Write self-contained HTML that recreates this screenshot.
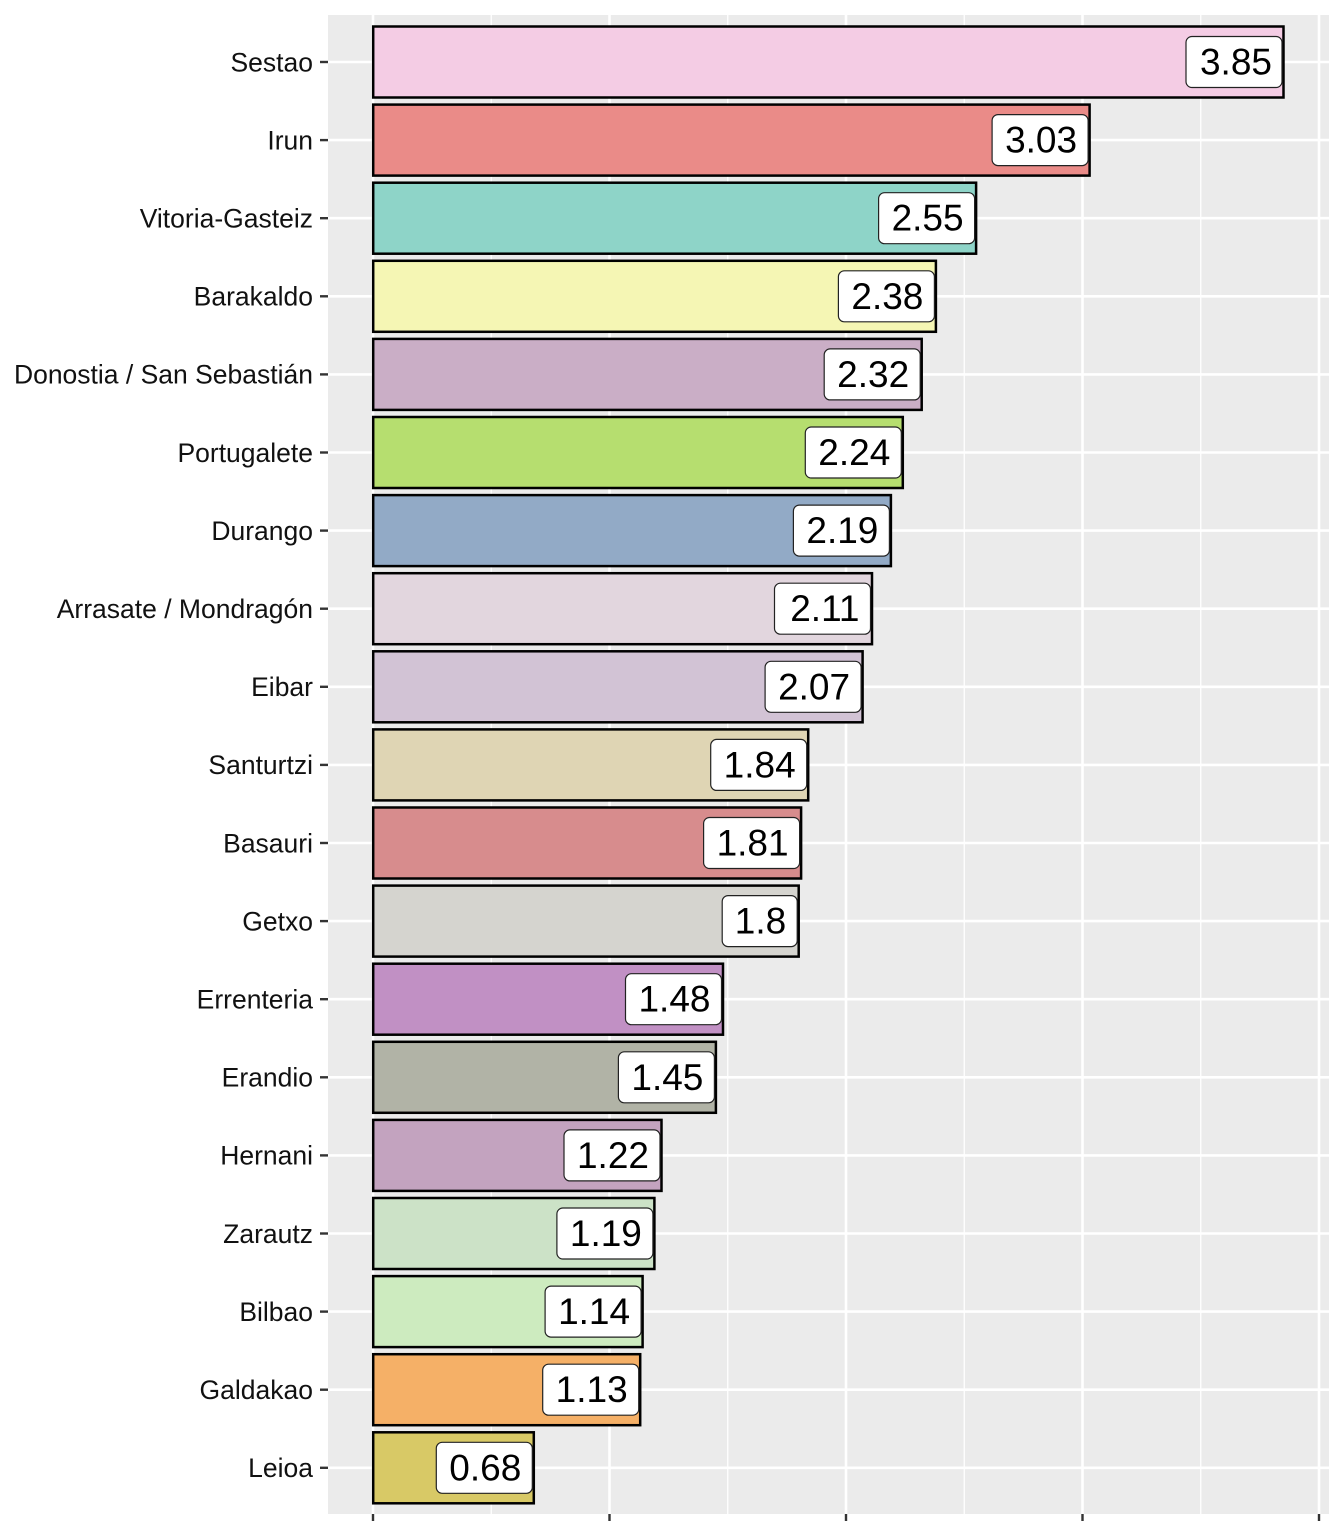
<!DOCTYPE html>
<html>
<head>
<meta charset="utf-8">
<style>
html,body{margin:0;padding:0;background:#fff;}
svg{display:block;}
.yl{font-family:"Liberation Sans",Arial,sans-serif;font-size:26.5px;fill:#111;}
.vl{font-family:"Liberation Sans",Arial,sans-serif;font-size:37px;fill:#000;}
</style>
</head>
<body>
<svg width="1344" height="1536" viewBox="0 0 1344 1536" xmlns="http://www.w3.org/2000/svg">
<rect x="0" y="0" width="1344" height="1536" fill="#fff"/>
<rect x="328" y="15" width="1001" height="1499" fill="#EBEBEB"/>
<g stroke="#fff" stroke-width="1.3">
<line x1="491.25" y1="15" x2="491.25" y2="1514"/>
<line x1="727.75" y1="15" x2="727.75" y2="1514"/>
<line x1="964.25" y1="15" x2="964.25" y2="1514"/>
<line x1="1200.75" y1="15" x2="1200.75" y2="1514"/>
</g>
<g stroke="#fff" stroke-width="2.6">
<line x1="373" y1="15" x2="373" y2="1514"/>
<line x1="609.5" y1="15" x2="609.5" y2="1514"/>
<line x1="846" y1="15" x2="846" y2="1514"/>
<line x1="1082.5" y1="15" x2="1082.5" y2="1514"/>
<line x1="1319" y1="15" x2="1319" y2="1514"/>
<line x1="328" y1="62" x2="1329" y2="62"/>
<line x1="328" y1="140.1" x2="1329" y2="140.1"/>
<line x1="328" y1="218.2" x2="1329" y2="218.2"/>
<line x1="328" y1="296.3" x2="1329" y2="296.3"/>
<line x1="328" y1="374.4" x2="1329" y2="374.4"/>
<line x1="328" y1="452.5" x2="1329" y2="452.5"/>
<line x1="328" y1="530.6" x2="1329" y2="530.6"/>
<line x1="328" y1="608.7" x2="1329" y2="608.7"/>
<line x1="328" y1="686.8" x2="1329" y2="686.8"/>
<line x1="328" y1="764.9" x2="1329" y2="764.9"/>
<line x1="328" y1="843" x2="1329" y2="843"/>
<line x1="328" y1="921.1" x2="1329" y2="921.1"/>
<line x1="328" y1="999.2" x2="1329" y2="999.2"/>
<line x1="328" y1="1077.3" x2="1329" y2="1077.3"/>
<line x1="328" y1="1155.4" x2="1329" y2="1155.4"/>
<line x1="328" y1="1233.5" x2="1329" y2="1233.5"/>
<line x1="328" y1="1311.6" x2="1329" y2="1311.6"/>
<line x1="328" y1="1389.7" x2="1329" y2="1389.7"/>
<line x1="328" y1="1467.8" x2="1329" y2="1467.8"/>
</g>
<!-- bars -->
<g stroke="#000" stroke-width="2.5">
<rect x="373.2" y="26.5" width="910.3" height="71" fill="#F4CCE4"/>
<rect x="373.2" y="104.6" width="716.4" height="71" fill="#EA8B88"/>
<rect x="373.2" y="182.7" width="602.9" height="71" fill="#8ED4C8"/>
<rect x="373.2" y="260.8" width="562.7" height="71" fill="#F5F6B4"/>
<rect x="373.2" y="338.9" width="548.5" height="71" fill="#CAAEC6"/>
<rect x="373.2" y="417" width="529.6" height="71" fill="#B6DE6F"/>
<rect x="373.2" y="495.1" width="517.7" height="71" fill="#92AAC6"/>
<rect x="373.2" y="573.2" width="498.8" height="71" fill="#E2D6DE"/>
<rect x="373.2" y="651.3" width="489.4" height="71" fill="#D2C3D5"/>
<rect x="373.2" y="729.4" width="435" height="71" fill="#DFD5B4"/>
<rect x="373.2" y="807.5" width="427.9" height="71" fill="#D78C8D"/>
<rect x="373.2" y="885.6" width="425.5" height="71" fill="#D5D4CF"/>
<rect x="373.2" y="963.7" width="349.8" height="71" fill="#C190C4"/>
<rect x="373.2" y="1041.8" width="342.7" height="71" fill="#B1B3A6"/>
<rect x="373.2" y="1119.9" width="288.3" height="71" fill="#C3A3BF"/>
<rect x="373.2" y="1198" width="281.2" height="71" fill="#CCE2C7"/>
<rect x="373.2" y="1276.1" width="269.4" height="71" fill="#CDEBBF"/>
<rect x="373.2" y="1354.2" width="267" height="71" fill="#F5B067"/>
<rect x="373.2" y="1432.3" width="160.6" height="71" fill="#D8C966"/>
</g>
<!-- value labels -->
<g stroke="#222" stroke-width="1.2" fill="#fff">
<rect x="1186" y="36.5" width="96" height="51" rx="6"/>
<rect x="992.1" y="114.6" width="96" height="51" rx="6"/>
<rect x="878.6" y="192.7" width="96" height="51" rx="6"/>
<rect x="838.4" y="270.8" width="96" height="51" rx="6"/>
<rect x="824.2" y="348.9" width="96" height="51" rx="6"/>
<rect x="805.3" y="427" width="96" height="51" rx="6"/>
<rect x="793.4" y="505.1" width="96" height="51" rx="6"/>
<rect x="774.5" y="583.2" width="96" height="51" rx="6"/>
<rect x="765.1" y="661.3" width="96" height="51" rx="6"/>
<rect x="710.7" y="739.4" width="96" height="51" rx="6"/>
<rect x="703.6" y="817.5" width="96" height="51" rx="6"/>
<rect x="722.2" y="895.6" width="75" height="51" rx="6"/>
<rect x="625.5" y="973.7" width="96" height="51" rx="6"/>
<rect x="618.4" y="1051.8" width="96" height="51" rx="6"/>
<rect x="564" y="1129.9" width="96" height="51" rx="6"/>
<rect x="556.9" y="1208" width="96" height="51" rx="6"/>
<rect x="545.1" y="1286.1" width="96" height="51" rx="6"/>
<rect x="542.7" y="1364.2" width="96" height="51" rx="6"/>
<rect x="436.3" y="1442.3" width="96" height="51" rx="6"/>
</g>
<g class="vl" text-anchor="end">
<text x="1272" y="74.5">3.85</text>
<text x="1077.1" y="152.6">3.03</text>
<text x="963.6" y="230.7">2.55</text>
<text x="923.4" y="308.8">2.38</text>
<text x="909.2" y="386.9">2.32</text>
<text x="890.3" y="465">2.24</text>
<text x="878.4" y="543.1">2.19</text>
<text x="859.5" y="621.2">2.11</text>
<text x="850.1" y="699.3">2.07</text>
<text x="795.7" y="777.4">1.84</text>
<text x="788.6" y="855.5">1.81</text>
<text x="786.2" y="933.6">1.8</text>
<text x="710.5" y="1011.7">1.48</text>
<text x="703.4" y="1089.8">1.45</text>
<text x="649" y="1167.9">1.22</text>
<text x="641.9" y="1246">1.19</text>
<text x="630.1" y="1324.1">1.14</text>
<text x="627.7" y="1402.2">1.13</text>
<text x="521.3" y="1480.3">0.68</text>
</g>
<!-- y axis ticks -->
<g stroke="#333" stroke-width="2.4">
<line x1="320" y1="62" x2="328" y2="62"/>
<line x1="320" y1="140.1" x2="328" y2="140.1"/>
<line x1="320" y1="218.2" x2="328" y2="218.2"/>
<line x1="320" y1="296.3" x2="328" y2="296.3"/>
<line x1="320" y1="374.4" x2="328" y2="374.4"/>
<line x1="320" y1="452.5" x2="328" y2="452.5"/>
<line x1="320" y1="530.6" x2="328" y2="530.6"/>
<line x1="320" y1="608.7" x2="328" y2="608.7"/>
<line x1="320" y1="686.8" x2="328" y2="686.8"/>
<line x1="320" y1="764.9" x2="328" y2="764.9"/>
<line x1="320" y1="843" x2="328" y2="843"/>
<line x1="320" y1="921.1" x2="328" y2="921.1"/>
<line x1="320" y1="999.2" x2="328" y2="999.2"/>
<line x1="320" y1="1077.3" x2="328" y2="1077.3"/>
<line x1="320" y1="1155.4" x2="328" y2="1155.4"/>
<line x1="320" y1="1233.5" x2="328" y2="1233.5"/>
<line x1="320" y1="1311.6" x2="328" y2="1311.6"/>
<line x1="320" y1="1389.7" x2="328" y2="1389.7"/>
<line x1="320" y1="1467.8" x2="328" y2="1467.8"/>
<line x1="373" y1="1514" x2="373" y2="1521"/>
<line x1="609.5" y1="1514" x2="609.5" y2="1521"/>
<line x1="846" y1="1514" x2="846" y2="1521"/>
<line x1="1082.5" y1="1514" x2="1082.5" y2="1521"/>
<line x1="1319" y1="1514" x2="1319" y2="1521"/>
</g>
<g class="yl" text-anchor="end">
<text x="313" y="71.3">Sestao</text>
<text x="313" y="149.4">Irun</text>
<text x="313" y="227.5">Vitoria-Gasteiz</text>
<text x="313" y="305.6">Barakaldo</text>
<text x="313" y="383.7">Donostia / San Sebastián</text>
<text x="313" y="461.8">Portugalete</text>
<text x="313" y="539.9">Durango</text>
<text x="313" y="618">Arrasate / Mondragón</text>
<text x="313" y="696.1">Eibar</text>
<text x="313" y="774.2">Santurtzi</text>
<text x="313" y="852.3">Basauri</text>
<text x="313" y="930.4">Getxo</text>
<text x="313" y="1008.5">Errenteria</text>
<text x="313" y="1086.6">Erandio</text>
<text x="313" y="1164.7">Hernani</text>
<text x="313" y="1242.8">Zarautz</text>
<text x="313" y="1320.9">Bilbao</text>
<text x="313" y="1399">Galdakao</text>
<text x="313" y="1477.1">Leioa</text>
</g>
</svg>
</body>
</html>
